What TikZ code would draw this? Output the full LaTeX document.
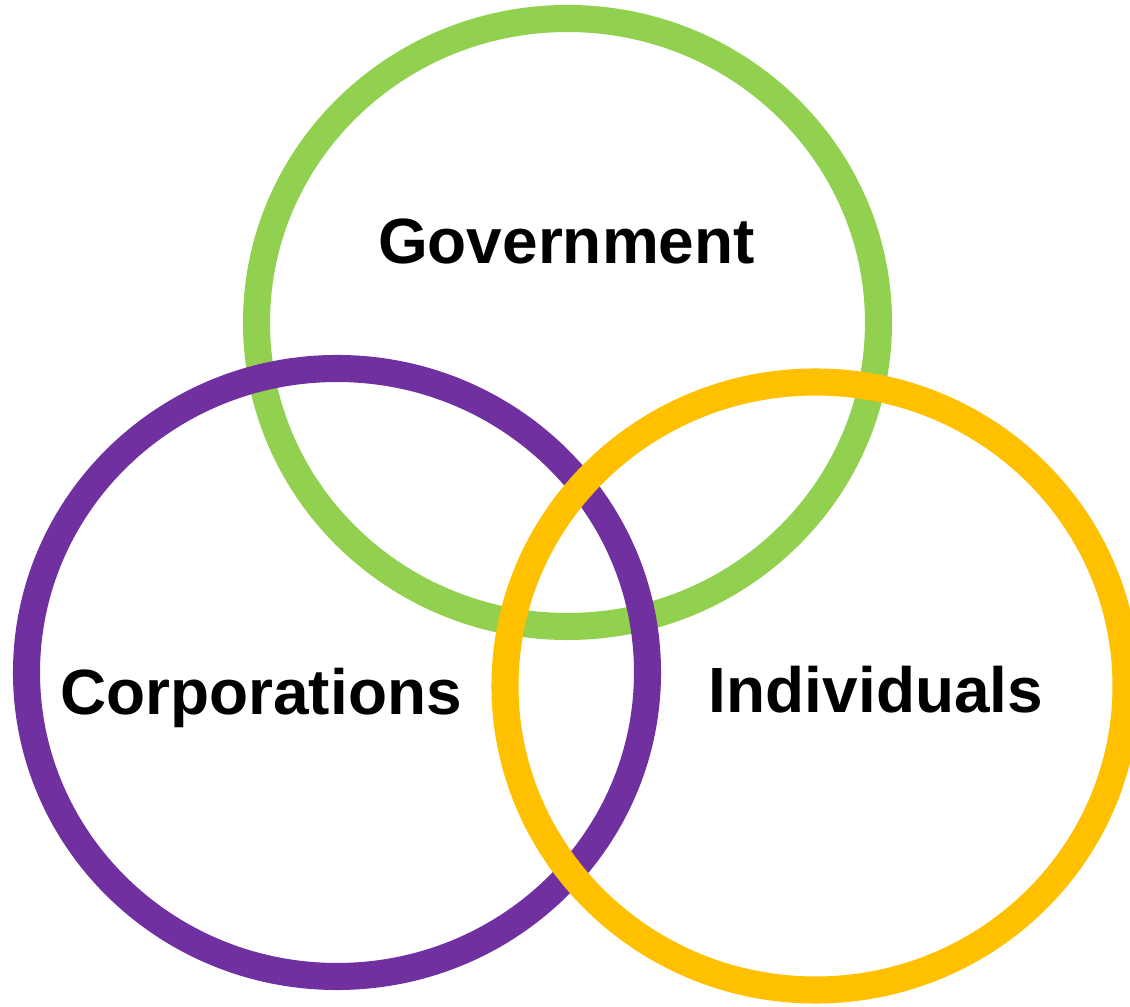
\documentclass[tikz,border=0pt]{standalone}
\usepackage{fontspec}
\setmainfont{Liberation Sans}
\definecolor{govgreen}{HTML}{92D050}
\definecolor{corppurple}{HTML}{7030A0}
\definecolor{indyellow}{HTML}{FFC000}
\tikzset{ring/.style={line width=15.4pt},
  label/.style={font=\bfseries\fontsize{36.4}{40}\selectfont,anchor=base,inner sep=0pt}}
\begin{document}
\begin{tikzpicture}[x=0.02cm,y=0.02cm]
\useasboundingbox (0,0) rectangle (1130,1007);
\draw[ring,govgreen] (567.5,684.5) ellipse [x radius=311,y radius=304];
\draw[ring,corppurple] (337,334.5) ellipse [x radius=310.5,y radius=304];
\draw[ring,indyellow] (815.5,321) ellipse [x radius=310.5,y radius=304];
\node[label] (gov) at (566.5,743) {Government};
\node[label] (corp) at (261,292) {Corporations};
\node[label] (ind) at (876,294) {Individuals};
\end{tikzpicture}
\end{document}
